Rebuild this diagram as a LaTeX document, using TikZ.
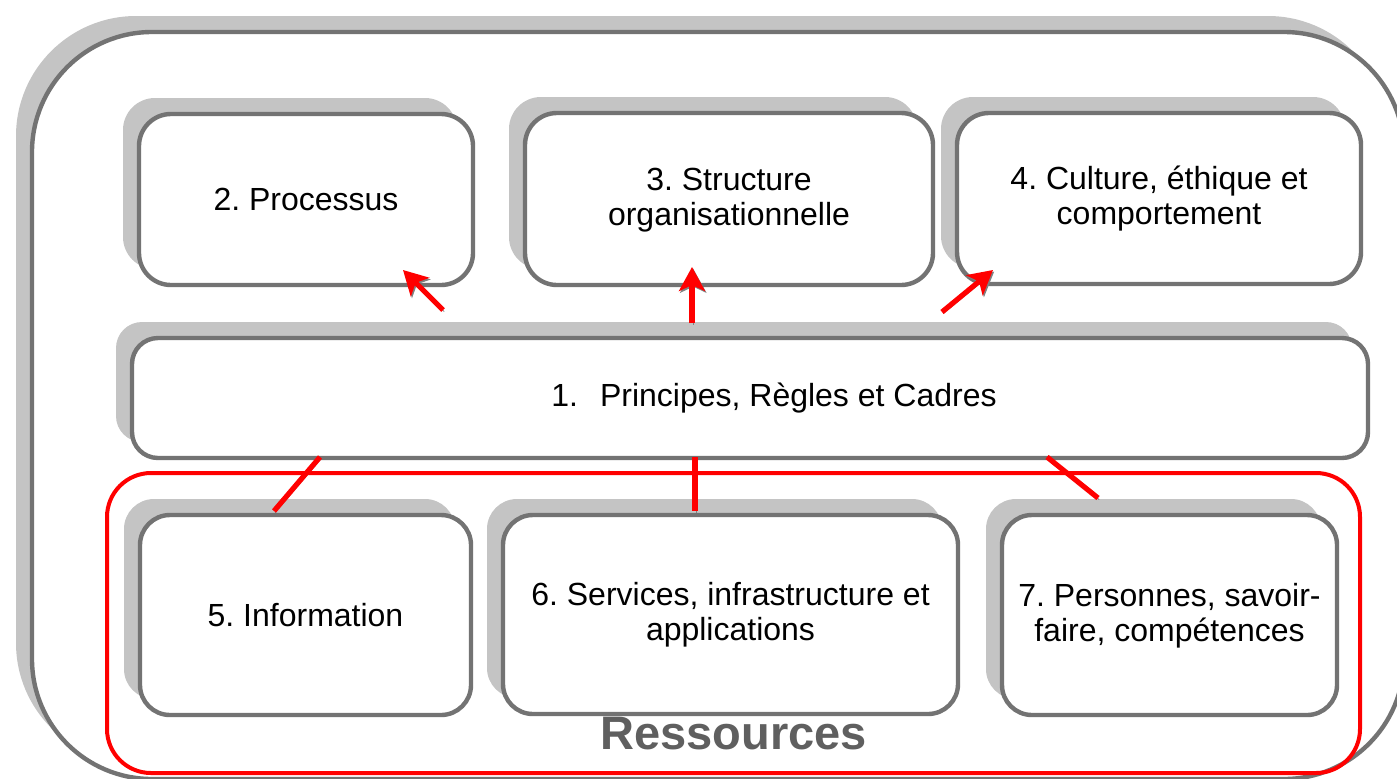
\documentclass[tikz,border=0pt]{standalone}
\usepackage{fontspec}
\setmainfont{Liberation Sans}
\usetikzlibrary{shadows,arrows.meta}

\definecolor{framegray}{HTML}{737373}
\definecolor{shadowgray}{HTML}{C4C4C4}
\definecolor{resgray}{HTML}{5F5F5F}
\frenchspacing

\begin{document}
\begin{tikzpicture}
[x=.5pt,y=-.5pt]
\tikzset{shadowed/.style={drop shadow={shadow xshift=-8pt,shadow yshift=8pt,fill=shadowgray,opacity=1}}}
\tikzset{box/.style={draw=framegray,line width=2.2pt,fill=white,rounded corners=16pt,shadowed,align=center,font=\fontsize{16}{17.5}\selectfont}}
\tikzset{resbox/.style={draw=red,line width=2pt,rounded corners=22pt}}
\tikzset{redline/.style={draw=red,line width=2.6pt,preaction={draw=gray,transform canvas={shift={(.6pt,-.8pt)}}}}}
\tikzset{redarrow/.style={redline,-{Stealth[length=12pt,width=13pt,inset=3pt]}}}
\useasboundingbox (0,0) rectangle (1397,778);

% cadre general
\node [box,rounded corners=60pt,minimum width=686pt,minimum height=373.5pt] (frame) at (718,405.5) {};
\node [resbox,minimum width=626.5pt,minimum height=150pt] (res) at (733.5,623) {};
\node [font=\fontsize{23.5}{28}\selectfont\bfseries,text=resgray,anchor=base] (restxt) at ([yshift=13pt]res.south) {Ressources};

% boites
\node [box,minimum width=167pt,minimum height=85.5pt] (b2) at (306,199.5) {2. Processus};
\node [box,minimum width=204pt,minimum height=86pt] (b3) at (729,199) {\strut3. Structure\\organisationnelle};
\node [box,minimum width=202pt,minimum height=85.5pt] (b4) at (1159,198.5) {\strut4. Culture, éthique et\\comportement};
\node [box,rounded corners=13pt,minimum width=618pt,minimum height=60pt,
  label={[xshift=12pt,font=\fontsize{16}{17.5}\selectfont]center:1.\hspace{11pt}Principes, Règles et Cadres}] (b1) at (750,398) {};
\node [box,rounded corners=15pt,minimum width=165.5pt,minimum height=100pt] (b5) at (305.5,615) {5. Information};
\node [box,rounded corners=15pt,minimum width=227.5pt,minimum height=99.5pt] (b6) at (730.5,614.5) {\strut6. Services, infrastructure et\\applications};
\node [box,rounded corners=15pt,minimum width=167.5pt,minimum height=100pt] (b7) at (1169.5,615) {\strut7. Personnes, savoir-\\faire, compétences};

% fleches
\coordinate (a1) at (443,310);
\coordinate (a2) at (403,270);
\coordinate (a3) at (692,323);
\coordinate (a4) at (692,267);
\coordinate (a5) at (942,312);
\coordinate (a6) at (993,270);
\coordinate (l1) at (320,457);
\coordinate (l2) at (274,511);
\coordinate (l3) at (695,457);
\coordinate (l4) at (695,511);
\coordinate (l5) at (1047,457);
\coordinate (l6) at (1098,498);

\foreach \from/\to in {a1/a2,a3/a4,a5/a6}
	\draw [redarrow] (\from) -- (\to);
\foreach \from/\to in {l1/l2,l3/l4,l5/l6}
	\draw [redline] (\from) -- (\to);
\end{tikzpicture}
\end{document}
